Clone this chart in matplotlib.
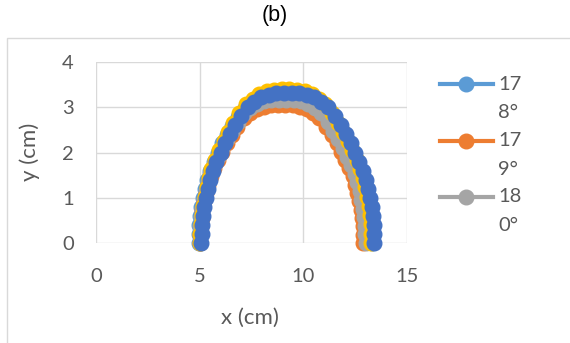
import matplotlib
matplotlib.use("Agg")
import matplotlib.pyplot as plt
from matplotlib.lines import Line2D
from matplotlib.patches import Rectangle

plt.rcParams["font.family"] = ["Lato", "DejaVu Sans"]

# series data (x, y in cm)
x_178 = [4.95, 4.96, 4.98, 5.02, 5.07, 5.17, 5.26, 5.37, 5.50, 5.67, 5.88, 6.09, 6.32, 6.57, 6.86,
         7.20, 7.50, 7.84, 8.20, 8.56, 8.94, 9.30, 9.68, 10.04, 10.40, 10.74, 11.04, 11.38, 11.67,
         11.92, 12.15, 12.36, 12.57, 12.74, 12.87, 12.98, 13.07, 13.17, 13.22, 13.26, 13.28, 13.29]
y_178 = [0.00, 0.20, 0.40, 0.60, 0.80, 1.00, 1.20, 1.40, 1.60, 1.80, 2.00, 2.20, 2.39, 2.59, 2.79,
         2.99, 3.11, 3.21, 3.27, 3.29, 3.30, 3.30, 3.29, 3.27, 3.21, 3.11, 2.99, 2.79, 2.59,
         2.39, 2.20, 2.00, 1.80, 1.60, 1.40, 1.20, 1.00, 0.80, 0.60, 0.40, 0.20, 0.00]

x_179 = [5.02, 5.03, 5.05, 5.09, 5.13, 5.23, 5.31, 5.42, 5.54, 5.70, 5.90, 6.10, 6.31, 6.55, 6.82,
         7.15, 7.43, 7.75, 8.09, 8.43, 8.79, 9.13, 9.49, 9.83, 10.17, 10.49, 10.77, 11.10, 11.37,
         11.61, 11.82, 12.02, 12.22, 12.38, 12.50, 12.61, 12.69, 12.79, 12.83, 12.87, 12.89, 12.90]
y_179 = [0.00, 0.18, 0.37, 0.55, 0.74, 0.92, 1.10, 1.29, 1.47, 1.65, 1.84, 2.02, 2.21, 2.39, 2.57,
         2.76, 2.87, 2.96, 3.01, 3.04, 3.05, 3.05, 3.04, 3.01, 2.96, 2.87, 2.76, 2.57, 2.39,
         2.21, 2.02, 1.84, 1.65, 1.47, 1.29, 1.10, 0.92, 0.74, 0.55, 0.37, 0.18, 0.00]

x_180 = [5.00, 5.01, 5.03, 5.06, 5.11, 5.21, 5.29, 5.40, 5.52, 5.69, 5.89, 6.09, 6.31, 6.55, 6.83,
         7.16, 7.44, 7.77, 8.12, 8.46, 8.83, 9.17, 9.54, 9.88, 10.23, 10.56, 10.84, 11.17, 11.45,
         11.69, 11.91, 12.11, 12.31, 12.48, 12.60, 12.71, 12.79, 12.89, 12.94, 12.97, 12.99, 13.00]
y_180 = [0.00, 0.19, 0.38, 0.57, 0.76, 0.96, 1.15, 1.34, 1.53, 1.72, 1.91, 2.10, 2.29, 2.48, 2.67,
         2.87, 2.98, 3.08, 3.13, 3.16, 3.17, 3.17, 3.16, 3.13, 3.08, 2.98, 2.87, 2.67, 2.48,
         2.29, 2.10, 1.91, 1.72, 1.53, 1.34, 1.15, 0.96, 0.76, 0.57, 0.38, 0.19, 0.00]

x_181 = [5.02, 5.03, 5.05, 5.09, 5.14, 5.24, 5.33, 5.44, 5.57, 5.73, 5.94, 6.15, 6.38, 6.63, 6.91,
         7.25, 7.55, 7.88, 8.24, 8.60, 8.97, 9.33, 9.70, 10.06, 10.42, 10.75, 11.05, 11.39, 11.67,
         11.92, 12.15, 12.36, 12.57, 12.73, 12.86, 12.97, 13.06, 13.16, 13.21, 13.25, 13.27, 13.28]
y_181 = [0.00, 0.20, 0.41, 0.61, 0.82, 1.02, 1.23, 1.43, 1.64, 1.84, 2.05, 2.25, 2.46, 2.66, 2.87,
         3.07, 3.19, 3.30, 3.36, 3.39, 3.40, 3.40, 3.39, 3.36, 3.30, 3.19, 3.07, 2.87, 2.66,
         2.46, 2.25, 2.05, 1.84, 1.64, 1.43, 1.23, 1.02, 0.82, 0.61, 0.41, 0.20, 0.00]

x_182 = [5.08, 5.09, 5.11, 5.15, 5.20, 5.30, 5.39, 5.50, 5.63, 5.80, 6.01, 6.22, 6.45, 6.70, 6.99,
         7.33, 7.63, 7.97, 8.33, 8.69, 9.07, 9.43, 9.81, 10.17, 10.53, 10.87, 11.17, 11.51, 11.80,
         12.05, 12.28, 12.49, 12.70, 12.87, 13.00, 13.11, 13.20, 13.30, 13.35, 13.39, 13.41, 13.42]
y_182 = [0.00, 0.20, 0.40, 0.60, 0.80, 1.00, 1.20, 1.40, 1.60, 1.80, 2.00, 2.20, 2.40, 2.60, 2.80,
         3.00, 3.12, 3.22, 3.28, 3.31, 3.32, 3.32, 3.31, 3.28, 3.22, 3.12, 3.00, 2.80, 2.60,
         2.40, 2.20, 2.00, 1.80, 1.60, 1.40, 1.20, 1.00, 0.80, 0.60, 0.40, 0.20, 0.00]

series = [(x_178, y_178, "#5B9BD5"), (x_179, y_179, "#ED7D31"), (x_180, y_180, "#A5A5A5"),
          (x_181, y_181, "#FFC000"), (x_182, y_182, "#4472C4")]
legend_labels = [("17", "8°"), ("17", "9°"), ("18", "0°")]

W, H = 570, 343
fig = plt.figure(figsize=(5.7, 3.43), dpi=100)

# chart border
fig.add_artist(Rectangle((7 / W, -0.01), 1.0, 1 - 38 / H + 0.01, transform=fig.transFigure,
                         fill=False, edgecolor="#D9D9D9", linewidth=1.0))

ax = fig.add_axes([96 / W, 1 - 243 / H, (407 - 96) / W, (243 - 62) / H])
for x, y, c in series:
    ax.plot(x, y, "-o", color=c, lw=3, markersize=10.5, clip_on=False)

ax.set_xlim(0, 15)
ax.set_ylim(0, 4)
ax.set_xticks([0, 5, 10, 15])
ax.set_yticks([0, 1, 2, 3, 4])
ax.grid(True, color="#D9D9D9", linewidth=1.0)
ax.set_axisbelow(True)
for s in ax.spines.values():
    s.set_visible(False)
ax.tick_params(length=0, labelsize=14.5, colors="#595959")
ax.tick_params(axis="x", pad=18)
ax.tick_params(axis="y", pad=16)
ax.set_xlabel("x (cm)", fontsize=16, color="#595959", va="center")
ax.set_ylabel("y (cm)", fontsize=16, color="#595959", va="center")
ax.xaxis.set_label_coords((250 - 96) / 311, (243 - 318) / 181)
ax.yaxis.set_label_coords((30 - 96) / 311, (243 - 152) / 181)

fig.text(275 / W, 1 - 15 / H, "(b)", ha="center", va="center", fontsize=15.5,
         color="black", family=["Liberation Sans", "DejaVu Sans"])

# legend (text wraps in the original)
for i, (first, second) in enumerate(legend_labels):
    yc = 1 - (84 + 56.5 * i) / H
    c = series[i][2]
    fig.add_artist(Line2D([440 / W, 493 / W], [yc, yc], transform=fig.transFigure,
                          color=c, lw=3))
    fig.add_artist(Line2D([466 / W], [yc], transform=fig.transFigure, color=c,
                          marker="o", markersize=10.5))
    fig.text(498 / W, yc, first, ha="left", va="center", fontsize=14.5, color="#595959")
    fig.text(498 / W, yc - 29 / H, second, ha="left", va="center", fontsize=14.5,
             color="#595959")

fig.savefig("out.png", dpi=100)
